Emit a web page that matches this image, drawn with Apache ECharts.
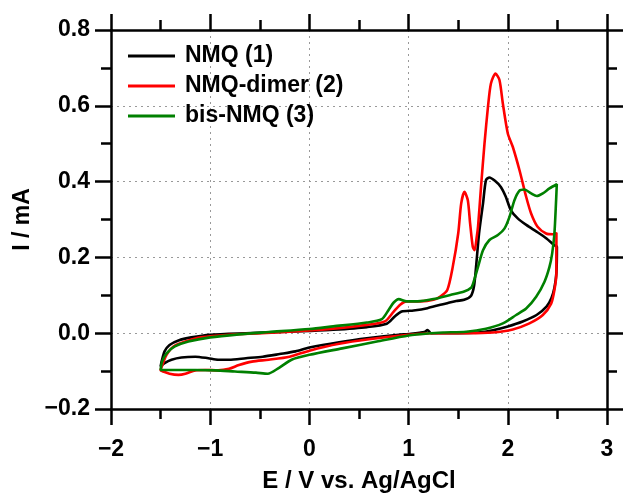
<!DOCTYPE html>
<html>
<head>
<meta charset="utf-8">
<script src="https://cdn.jsdelivr.net/npm/echarts@6/dist/echarts.min.js"></script>
<style>
html,body{margin:0;padding:0;background:#fff;}
#chart{width:623px;height:494px;}
</style>
</head>
<body>
<div id="chart"></div>
<script>
// Series names
const seriesNames = ['NMQ (1)', 'NMQ-dimer (2)', 'bis-NMQ (3)'];

// NMQ (1): potential E (V) and current I (mA), in scan order
const nmqE = [1.22, 1.19, 1.16, 1.0, 0.9, 0.6, 0.3, 0.0, -0.14, -0.3, -0.47, -0.64, -0.81, -0.92, -1.02, -1.15, -1.29, -1.39, -1.46, -1.50,
  -1.49, -1.46, -1.41, -1.32, -1.19, -1.0, -0.64, -0.3, 0.0, 0.24, 0.58, 0.78, 0.86, 0.93, 1.05, 1.19, 1.32, 1.39, 1.48, 1.56, 1.63, 1.66, 1.68, 1.71, 1.75, 1.78, 1.815, 1.87, 1.93, 1.98, 2.03, 2.10, 2.19, 2.29, 2.39, 2.47, 2.495,
  2.49, 2.47, 2.44, 2.39, 2.29, 2.15, 2.0, 1.85, 1.7, 1.5, 1.3, 1.22];
const nmqI = [0.000, 0.008, 0.003, -0.002, -0.004, -0.013, -0.024, -0.038, -0.048, -0.055, -0.062, -0.066, -0.070, -0.070, -0.066, -0.062, -0.064, -0.070, -0.079, -0.088,
  -0.075, -0.048, -0.031, -0.019, -0.011, -0.004, 0.000, 0.003, 0.006, 0.009, 0.016, 0.025, 0.044, 0.057, 0.060, 0.066, 0.075, 0.079, 0.085, 0.088, 0.099, 0.125, 0.175, 0.263, 0.342, 0.404, 0.411, 0.402, 0.386, 0.360, 0.325, 0.303, 0.285, 0.268, 0.250, 0.232, 0.228,
  0.160, 0.120, 0.093, 0.070, 0.048, 0.031, 0.018, 0.008, 0.002, 0.000, 0.000, 0.000];

// NMQ-dimer (2)
const dimerE = [1.22, 1.0, 0.6, 0.3, 0.0, -0.2, -0.41, -0.58, -0.71, -0.81, -0.92, -1.05, -1.15, -1.25, -1.32, -1.41, -1.475, -1.50,
  -1.475, -1.44, -1.37, -1.25, -1.09, -0.81, -0.48, 0.0, 0.24, 0.58, 0.76, 0.85, 0.915, 0.98, 1.12, 1.25, 1.32, 1.39, 1.445, 1.50, 1.53, 1.563, 1.597, 1.62, 1.647, 1.665, 1.687, 1.70, 1.73, 1.765, 1.80, 1.83, 1.876, 1.916, 1.95, 2.0, 2.05, 2.118, 2.185, 2.235, 2.30, 2.386, 2.454, 2.49,
  2.49, 2.47, 2.437, 2.353, 2.218, 2.05, 1.85, 1.6, 1.35, 1.22];
const dimerI = [0.000, -0.004, -0.016, -0.028, -0.046, -0.062, -0.070, -0.075, -0.084, -0.094, -0.098, -0.097, -0.098, -0.107, -0.110, -0.107, -0.101, -0.098,
  -0.079, -0.057, -0.035, -0.022, -0.011, -0.004, 0.000, 0.007, 0.012, 0.022, 0.031, 0.057, 0.075, 0.084, 0.084, 0.088, 0.097, 0.114, 0.175, 0.263, 0.342, 0.373, 0.351, 0.290, 0.228, 0.219, 0.254, 0.281, 0.386, 0.500, 0.597, 0.659, 0.685, 0.668, 0.606, 0.527, 0.492, 0.430, 0.360, 0.316, 0.281, 0.263, 0.261, 0.265,
  0.158, 0.114, 0.078, 0.048, 0.026, 0.010, 0.002, 0.000, 0.000, 0.000];

// bis-NMQ (3)
const bisE = [1.22, 1.0, 0.68, 0.33, 0.0, -0.18, -0.31, -0.42, -0.54, -0.75, -0.95, -1.15, -1.32, -1.50,
  -1.485, -1.44, -1.356, -1.22, -1.0, -0.71, -0.41, 0.0, 0.24, 0.58, 0.73, 0.80, 0.85, 0.90, 0.98, 1.09, 1.25, 1.42, 1.56, 1.63, 1.65, 1.70, 1.75, 1.815, 1.90, 1.966, 2.017, 2.067, 2.118, 2.168, 2.235, 2.292, 2.353, 2.42, 2.494,
  2.487, 2.47, 2.447, 2.42, 2.37, 2.286, 2.185, 2.084, 1.95, 1.78, 1.58, 1.35, 1.22];
const bisI = [0.000, -0.006, -0.022, -0.040, -0.057, -0.070, -0.092, -0.107, -0.104, -0.101, -0.098, -0.097, -0.097, -0.097,
  -0.075, -0.053, -0.035, -0.022, -0.011, -0.003, 0.003, 0.011, 0.018, 0.028, 0.037, 0.062, 0.081, 0.090, 0.084, 0.084, 0.090, 0.101, 0.110, 0.120, 0.131, 0.175, 0.219, 0.246, 0.259, 0.276, 0.307, 0.351, 0.376, 0.379, 0.369, 0.362, 0.369, 0.382, 0.393,
  0.351, 0.263, 0.210, 0.175, 0.136, 0.096, 0.065, 0.048, 0.026, 0.012, 0.004, 0.002, 0.000];

const seriesColors = ['#000000', '#ff0000', '#008000'];

const xTicks = [-2, -1, 0, 1, 2, 3];
const yTicks = [-0.2, 0.0, 0.2, 0.4, 0.6, 0.8];

function zip(a, b) { return a.map((v, i) => [v, b[i]]); }

const FONT = "'Liberation Sans', Arial, sans-serif";
const fmtMinus = s => s.replace('-', '\u2212');

const axisLineStyle = { color: '#000', width: 2.5 };
function makeX(pos, showLabel) {
  return {
    type: 'value', position: pos, min: xTicks[0], max: xTicks[xTicks.length - 1], interval: 1,
    axisLine: { show: true, onZero: false, lineStyle: axisLineStyle },
    axisTick: { show: true, inside: false, length: 16, lineStyle: { color: '#000', width: 2.5 } },
    minorTick: { show: true, splitNumber: 2, length: 10, lineStyle: { color: '#000', width: 2.5 } },
    splitLine: { show: showLabel, lineStyle: { color: '#999', type: [2, 4], width: 1 } },
    axisLabel: {
      show: showLabel, margin: 29, color: '#000', fontSize: 23, fontWeight: 'bold', fontFamily: FONT,
      formatter: v => fmtMinus(String(Math.round(v)))
    },
    name: showLabel ? 'E / V vs. Ag/AgCl' : '', nameLocation: 'middle', nameGap: 60,
    nameTextStyle: { color: '#000', fontSize: 24, fontWeight: 'bold', fontFamily: FONT }
  };
}
function makeY(pos, showLabel) {
  return {
    type: 'value', position: pos, min: yTicks[0], max: yTicks[yTicks.length - 1], interval: 0.2,
    axisLine: { show: true, onZero: false, lineStyle: axisLineStyle },
    axisTick: { show: true, inside: false, length: 16, lineStyle: { color: '#000', width: 2.5 } },
    minorTick: { show: true, splitNumber: 2, length: 10, lineStyle: { color: '#000', width: 2.5 } },
    splitLine: { show: showLabel, lineStyle: { color: '#999', type: [2, 4], width: 1 } },
    axisLabel: {
      show: showLabel, margin: 21, color: '#000', fontSize: 23, fontWeight: 'bold', fontFamily: FONT,
      formatter: v => fmtMinus(v.toFixed(1))
    },
    name: showLabel ? 'I / mA' : '', nameLocation: 'middle', nameGap: 74, nameRotate: 90,
    nameTextStyle: { color: '#000', fontSize: 23, fontWeight: 'bold', fontFamily: FONT }
  };
}

const dataSets = [zip(nmqE, nmqI), zip(dimerE, dimerI), zip(bisE, bisI)];

const chart = echarts.init(document.getElementById('chart'), null, { renderer: 'canvas' });
chart.setOption({
  animation: false,
  backgroundColor: '#fff',
  grid: { left: 111, right: 16, top: 30, bottom: 85, containLabel: false, outerBoundsMode: 'none' },
  xAxis: [makeX('bottom', true), makeX('top', false)],
  yAxis: [makeY('left', true), makeY('right', false)],
  legend: {
    left: 123, top: 39, orient: 'vertical', itemWidth: 47, itemHeight: 14, itemGap: 6,
    icon: 'path://M0,5.5 L47,5.5 L47,8.5 L0,8.5 Z',
    textStyle: { color: '#000', fontSize: 23, fontWeight: 'bold', fontFamily: FONT, lineHeight: 24, padding: [0, 0, 0, 5] },
    data: seriesNames.map((n, i) => ({ name: n, itemStyle: { color: seriesColors[i] } }))
  },
  series: dataSets.map((d, i) => ({
    name: seriesNames[i], type: 'line', data: d, xAxisIndex: 0, yAxisIndex: 0,
    symbol: 'none', smooth: 0.25, color: seriesColors[i],
    lineStyle: { color: seriesColors[i], width: 2.6 }
  }))
});
</script>
</body>
</html>
